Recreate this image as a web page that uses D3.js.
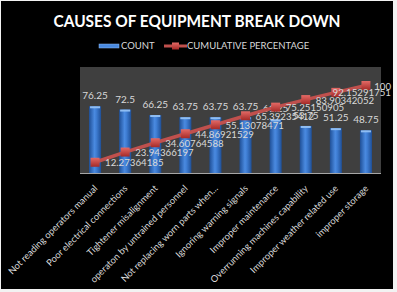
<!DOCTYPE html>
<html>
<head>
<meta charset="utf-8">
<script src="https://cdn.jsdelivr.net/npm/d3@7"></script>
<style>
  body { margin: 0; background: #fff; }
  svg { display: block; }
  text { font-family: "Lato", "Liberation Sans", sans-serif; }
</style>
</head>
<body>
<svg width="397" height="292"></svg>
<script>
var categories = ["Not reading operators manual", "Poor electrical connections", "Tightener misalignment",
    "operaton by untrained personnel", "Not replacing worn parts when...", "Ignoring warning signals",
    "Improper maintenance", "Overrunning machines capability", "Improper weather related use", "improper storage"];
var counts = [76.25, 72.5, 66.25, 63.75, 63.75, 63.75, 61.25, 53.75, 51.25, 48.75];
var cumulative = [12.27364185, 23.94366197, 34.60764588, 44.86921529, 55.13078471,
    65.39235412, 75.25150905, 83.90342052, 92.15291751, 100];
var countLabels = ["76.25", "72.5", "66.25", "63.75", "63.75", "63.75", "61.25", "53.75", "51.25", "48.75"];
var cumLabels = ["12.27364185", "23.94366197", "34.60764588", "44.86921529", "55.13078471",
    "65.39235412", "75.25150905", "83.90342052", "92.15291751", "100"];

var svg = d3.select("svg");

// outer frame: black chart area with a light edge
svg.append("rect").attr("x", 0).attr("y", 0).attr("width", 397).attr("height", 292).attr("fill", "#f2f2f2");
svg.append("rect").attr("x", 1).attr("y", 1).attr("width", 392).attr("height", 288).attr("fill", "#000");

var defs = svg.append("defs");
var bg = defs.append("linearGradient").attr("id", "barGrad").attr("x1", "0%").attr("x2", "100%");
bg.append("stop").attr("offset", "0%").attr("stop-color", "#1f4f96");
bg.append("stop").attr("offset", "45%").attr("stop-color", "#4a8ae0");
bg.append("stop").attr("offset", "60%").attr("stop-color", "#3f7ed4");
bg.append("stop").attr("offset", "100%").attr("stop-color", "#1f4f96");
var mg = defs.append("linearGradient").attr("id", "mkGrad").attr("x1", "0%").attr("y1", "0%").attr("x2", "0%").attr("y2", "100%");
mg.append("stop").attr("offset", "0%").attr("stop-color", "#e46a66");
mg.append("stop").attr("offset", "100%").attr("stop-color", "#a52a27");

var plotLeft = 80, plotRight = 381, plotTop = 67, plotBottom = 173;
var chartEdge = 391;

var x = d3.scaleBand().domain(categories).range([plotLeft, plotRight])
        .paddingInner(0.6).paddingOuter(0.3),
    y = d3.scaleLinear().domain([0, 120]).range([plotBottom, plotTop + 1]);

// plot area
svg.append("rect").attr("x", plotLeft).attr("y", plotTop)
    .attr("width", plotRight - plotLeft).attr("height", plotBottom - plotTop)
    .attr("fill", "#3f3f3f");

svg.append("text")
    .attr("x", 197).attr("y", 27)
    .attr("text-anchor", "middle")
    .attr("fill", "#fff")
    .attr("font-size", "17px")
    .attr("font-weight", "bold")
    .attr("textLength", 287).attr("lengthAdjust", "spacingAndGlyphs")
    .text("CAUSES OF EQUIPMENT BREAK DOWN");

// legend
var lg = svg.append("g");
lg.append("rect").attr("x", 99).attr("y", 44).attr("width", 20).attr("height", 4).attr("fill", "#4a8ae0")
    .attr("stroke", "#8cb8f0").attr("stroke-width", 0.5);
lg.append("text").attr("x", 121).attr("y", 49).attr("fill", "#d9d9d9").attr("font-size", "9.5px").text("COUNT");
lg.append("line").attr("x1", 164).attr("x2", 187).attr("y1", 46).attr("y2", 46)
    .attr("stroke", "#c0504d").attr("stroke-width", 3);
lg.append("rect").attr("x", 172).attr("y", 42.5).attr("width", 7).attr("height", 7).attr("fill", "url(#mkGrad)");
lg.append("text").attr("x", 187).attr("y", 49).attr("fill", "#d9d9d9").attr("font-size", "9.5px").text("CUMULATIVE PERCENTAGE");

// x axis
var xAxis = svg.append("g")
    .attr("transform", "translate(0," + plotBottom + ")")
    .call(d3.axisBottom(x).tickSize(0).tickPadding(0));
xAxis.select(".domain").attr("stroke", "#a6a6a6").attr("d", "M" + plotLeft + ",0.5H" + plotRight);
xAxis.selectAll("text")
    .attr("fill", "#d9d9d9")
    .attr("font-size", "9.3px")
    .attr("text-anchor", "end")
    .attr("dy", null)
    .attr("y", 0)
    .attr("transform", "translate(3,16) rotate(-45)");

// bars
svg.selectAll(".bar")
    .data(counts)
    .enter().append("rect")
    .attr("class", "bar")
    .attr("x", function(d, i) { return x(categories[i]); })
    .attr("y", function(d) { return y(d); })
    .attr("width", x.bandwidth())
    .attr("height", function(d) { return plotBottom - y(d); })
    .attr("fill", "url(#barGrad)");

svg.selectAll(".cap")
    .data(counts)
    .enter().append("rect")
    .attr("class", "cap")
    .attr("x", function(d, i) { return x(categories[i]) + 1; })
    .attr("y", function(d) { return y(d); })
    .attr("width", x.bandwidth() - 2)
    .attr("height", 2)
    .attr("fill", "#8fbdf2");

svg.selectAll(".barLabel")
    .data(countLabels)
    .enter().append("text")
    .attr("class", "barLabel")
    .attr("x", function(d, i) { return x(categories[i]) + x.bandwidth() / 2; })
    .attr("y", function(d, i) { return y(counts[i]) - 7; })
    .attr("text-anchor", "middle")
    .attr("fill", "#d9d9d9")
    .attr("font-size", "10px")
    .text(function(d) { return d; });

// cumulative line
var cx = function(i) { return x(categories[i]) + x.bandwidth() / 2; };
var line = d3.line()
    .x(function(d, i) { return cx(i); })
    .y(function(d) { return y(d); });

svg.append("path")
    .datum(cumulative)
    .attr("fill", "none")
    .attr("stroke", "#c0504d")
    .attr("stroke-width", 3.5)
    .attr("d", line);

svg.selectAll(".mk")
    .data(cumulative)
    .enter().append("rect")
    .attr("class", "mk")
    .attr("x", function(d, i) { return cx(i) - 4.5; })
    .attr("y", function(d) { return y(d) - 4.5; })
    .attr("width", 9).attr("height", 9)
    .attr("fill", "url(#mkGrad)");

// labels right of the markers, pushed back inside the chart when they would run off
svg.selectAll(".cumLabel")
    .data(cumLabels)
    .enter().append("text")
    .attr("class", "cumLabel")
    .attr("y", function(d, i) { return y(cumulative[i]) + 4; })
    .attr("fill", "#d9d9d9")
    .attr("font-size", "9.7px")
    .text(function(d) { return d; })
    .attr("x", function(d, i) {
        var w = this.getComputedTextLength();
        return Math.min(cx(i) + 10, chartEdge - w);
    });
</script>
</body>
</html>
